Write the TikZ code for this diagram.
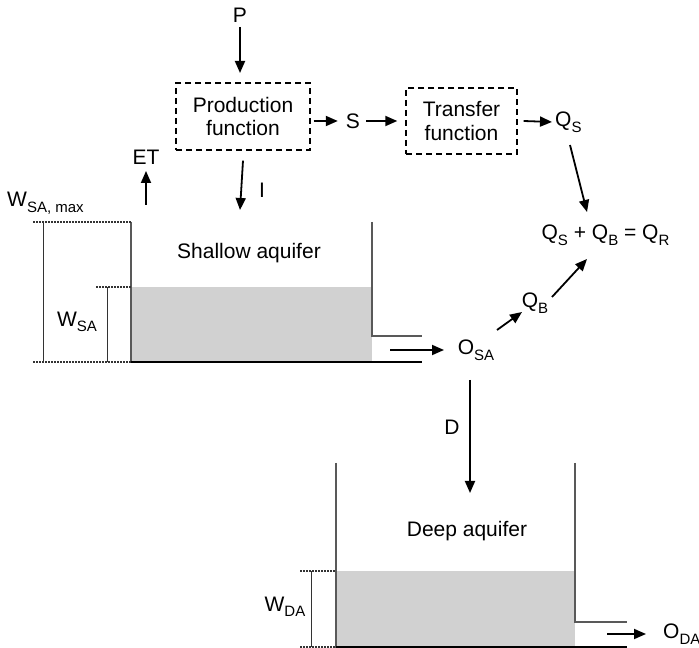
\documentclass[tikz,border=0pt]{standalone}
\usepackage{fontspec}
\setmainfont{Liberation Sans}
\usetikzlibrary{arrows.meta}
\newcommand\sbs[1]{\raisebox{-0.5ex}{\fontsize{15}{17}\selectfont #1}}
\begin{document}
\begin{tikzpicture}[x=1pt,y=1pt,
  every node/.style={font=\fontsize{21}{24}\selectfont, inner sep=0pt},
  arr/.style={line width=1.8pt,-{Triangle[length=12pt,width=10pt]}},
  fbox/.style={draw,line width=1.4pt,dash pattern=on 6pt off 4pt,minimum width=#1,align=center},
  wall/.style={draw=black!65,line width=1.3pt},
  base/.style={draw=black,line width=1.3pt},
  dotl/.style={draw=black!80,line width=1.3pt,dash pattern=on 1.5pt off 1.5pt},
  meas/.style={draw=black!80,line width=1pt}]
\useasboundingbox (0,0) rectangle (699,648);
% aquifer shapes
\fill[black!18] (131,286) rectangle (372,361);
\fill[black!18] (336,1) rectangle (575,77);
\draw[wall] (131,426) -- (131,286);
\draw[wall] (372,426) -- (372,312) -- (422,312);
\draw[base] (131,286) -- (422,286);
\draw[wall] (336,185) -- (336,0);
\draw[wall] (575,185) -- (575,26) -- (627,26);
\draw[base] (336,1) -- (627,1);
% measurement lines
\draw[dotl] (33,426) -- (131,426);
\draw[dotl] (33,286) -- (131,286);
\draw[meas] (43,426) -- (43,286);
\draw[dotl] (96,361) -- (131,361);
\draw[meas] (107,361) -- (107,286);
\draw[dotl] (300,77) -- (336,77);
\draw[dotl] (300,1) -- (336,1);
\draw[meas] (311,77) -- (311,1);
% nodes
\node (P) at (240,633) {P};
\node[fbox=134pt,minimum height=67pt] (prod) at (243,531.5) {Production\\function};
\node (S) at (353,527) {S};
\node[fbox=111pt,minimum height=66pt] (trans) at (461.5,527) {Transfer\\function};
\node[anchor=west] (QS) at (555,526) {Q\sbs{S}};
\node (sum) at (605.5,413) {Q\sbs{S} + Q\sbs{B} = Q\sbs{R}};
\node (QB) at (535,345) {Q\sbs{B}};
\node (OSA) at (476,298) {O\sbs{SA}};
\node (ET) at (146,491) {ET};
\node (I) at (262,458) {I};
\node (D) at (452,221) {D};
\node[anchor=west] (ODA) at (663,14) {O\sbs{DA}};
\node (shal) at (249,395) {Shallow aquifer};
\node (deep) at (467,117) {Deep aquifer};
\node[anchor=west] (wmax) at (7,445) {W\sbs{SA, max}};
\node (wsa) at (77,326) {W\sbs{SA}};
\node (wda) at (285,41) {W\sbs{DA}};
\coordinate (etbase) at (146,443);
\coordinate (ettip) at (146,477);
\coordinate (ptop) at (240,621);
\coordinate (ptip) at (240,575);
\coordinate (ibot) at (240,438);
\coordinate (dtop) at (470,268);
\coordinate (dbot) at (470,155);
\coordinate (osain) at (390,298);
\coordinate (osatip) at (444,298);
\coordinate (odain) at (607,14);
\coordinate (odatip) at (646,14);
% connectors
\draw[arr] (ptop) -- (ptip);
\draw[arr] ([xshift=3pt]prod.east |- S) -- ([xshift=-8pt]S.west);
\draw[arr] ([xshift=6pt]S.east) -- ([xshift=-8pt]trans.west);
\draw[arr] ([xshift=6pt]trans.east) -- ([xshift=-3pt]QS.west);
\draw[arr] (570,503) -- (587,436);
\draw[arr] ([yshift=-10pt]prod.south) -- (ibot);
\draw[arr] (etbase) -- (ettip);
\draw[arr] (dtop) -- (dbot);
\draw[arr] (osain) -- (osatip);
\draw[arr] (odain) -- (odatip);
\draw[arr] (497,318) -- (522,336);
\draw[arr] (552,351) -- (587,389);
\end{tikzpicture}
\end{document}
